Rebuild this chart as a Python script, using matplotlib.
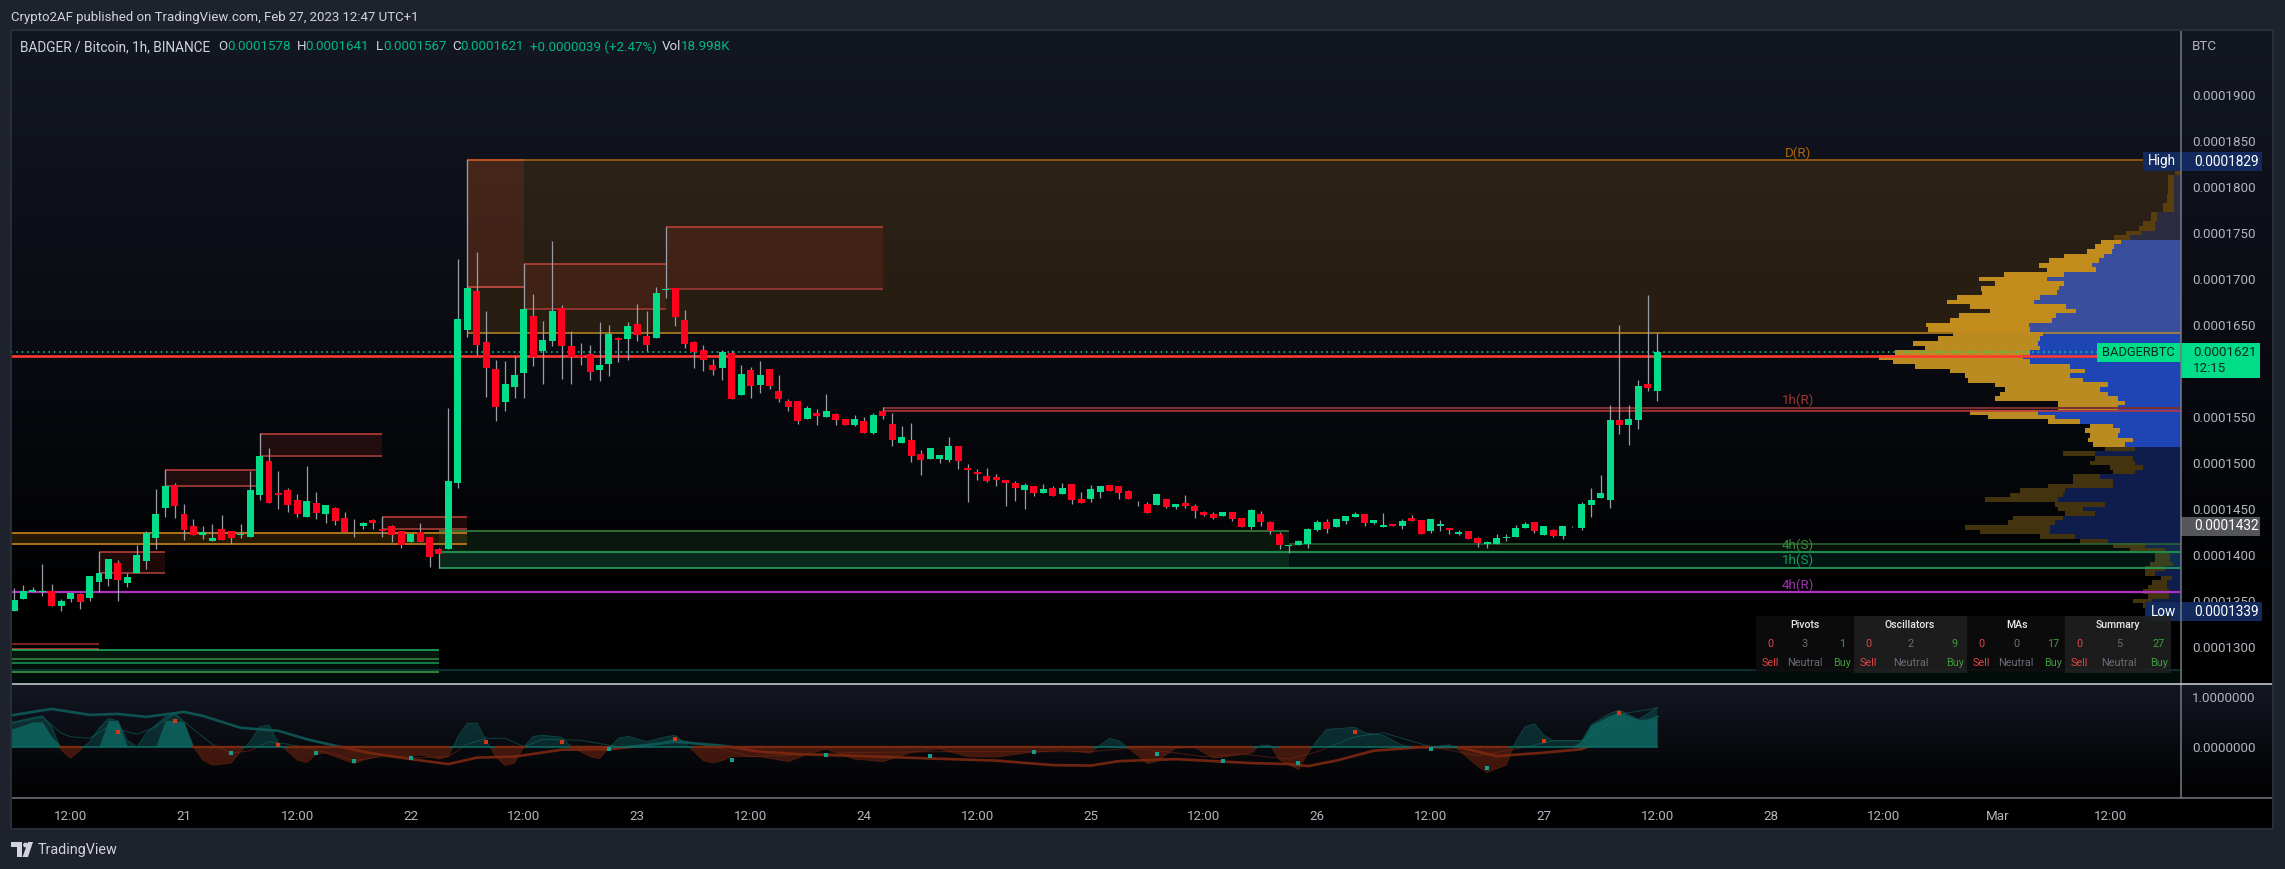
import numpy as np
import matplotlib
matplotlib.use("Agg")
import matplotlib.pyplot as plt
from matplotlib.colors import LinearSegmentedColormap
from matplotlib.patches import Rectangle, Polygon, Circle

W, H = 2285, 869
plt.rcParams['font.family'] = ['Roboto', 'DejaVu Sans']

# ---- candles: prices in 1e-7 BTC, hourly, first bar = Feb 20 06:00
first_hour = -18
opens = [1339,1352,1360,1360,1361,1345,1352,1358,1353,1371,
 1374,1391,1370,1380,1393,1418,1451,1476,1445,1432,
 1422,1415,1428,1426,1422,1420,1465,1502,1467,1471,
 1460,1441,1457,1445,1451,1440,1431,1431,1438,1428,
 1431,1426,1414,1425,1420,1407,1407,1478,1645,1687,
 1631,1602,1566,1583,1598,1660,1622,1633,1668,1627,
 1617,1618,1601,1608,1636,1635,1651,1638,1636,1688,
 1690,1655,1631,1623,1607,1603,1620,1574,1601,1585,
 1602,1578,1567,1567,1548,1554,1550,1553,1548,1541,
 1546,1533,1557,1542,1522,1525,1510,1504,1504,1503,
 1518,1495,1490,1486,1485,1482,1478,1471,1475,1467,
 1473,1466,1477,1461,1461,1468,1476,1475,1470,1456,
 1455,1454,1461,1452,1457,1453,1447,1445,1442,1447,
 1440,1430,1445,1436,1423,1410,1411,1412,1427,1436,
 1430,1437,1441,1445,1435,1430,1434,1432,1440,1438,
 1426,1432,1429,1423,1426,1418,1412,1412,1419,1420,
 1429,1436,1422,1427,1421,1431,1429,1454,1462,1460,
 1547,1541,1547,1586,1578]
highs = [1364,1367,1365,1390,1368,1352,1359,1359,1377,1403,
 1396,1395,1380,1411,1426,1472,1492,1478,1455,1439,
 1432,1434,1444,1426,1434,1491,1533,1516,1491,1473,
 1466,1497,1468,1454,1452,1447,1439,1436,1439,1441,
 1433,1426,1423,1435,1420,1408,1560,1722,1829,1729,
 1665,1612,1611,1616,1716,1684,1654,1741,1672,1643,
 1630,1628,1653,1650,1637,1653,1673,1665,1691,1755,
 1690,1666,1633,1628,1613,1623,1623,1607,1604,1611,
 1602,1596,1570,1567,1562,1559,1575,1554,1548,1552,
 1550,1554,1561,1554,1540,1543,1514,1516,1509,1528,
 1518,1499,1493,1495,1488,1482,1480,1478,1475,1477,
 1475,1478,1477,1468,1476,1475,1476,1475,1471,1459,
 1458,1466,1461,1455,1465,1455,1448,1447,1447,1447,
 1440,1450,1448,1437,1425,1411,1416,1429,1438,1439,
 1439,1442,1447,1445,1438,1446,1434,1439,1444,1438,
 1439,1438,1429,1427,1426,1420,1415,1423,1423,1433,
 1436,1436,1432,1428,1432,1432,1458,1473,1487,1563,
 1650,1563,1590,1683,1641]
lows = [1339,1352,1360,1355,1345,1339,1349,1341,1350,1360,
 1366,1350,1365,1380,1385,1407,1441,1440,1416,1422,
 1417,1415,1416,1412,1418,1420,1460,1457,1450,1447,
 1441,1441,1439,1435,1433,1425,1420,1428,1428,1420,
 1414,1408,1414,1414,1387,1386,1407,1473,1637,1617,
 1572,1546,1557,1571,1571,1605,1586,1627,1591,1586,
 1607,1590,1589,1595,1610,1612,1633,1622,1636,1679,
 1649,1625,1603,1600,1596,1590,1570,1574,1571,1576,
 1580,1566,1557,1542,1548,1541,1550,1541,1541,1540,
 1533,1531,1548,1518,1522,1501,1487,1504,1500,1501,
 1493,1458,1482,1479,1475,1453,1459,1450,1464,1467,
 1464,1466,1455,1457,1458,1462,1470,1461,1461,1453,
 1446,1454,1451,1450,1451,1440,1442,1439,1442,1437,
 1430,1428,1432,1423,1407,1402,1411,1408,1426,1424,
 1430,1434,1441,1432,1434,1430,1432,1428,1437,1423,
 1424,1426,1423,1422,1417,1409,1408,1412,1415,1420,
 1429,1424,1422,1420,1417,1430,1427,1441,1462,1451,
 1532,1520,1537,1578,1567]
closes = [1351,1361,1362,1361,1345,1350,1359,1349,1377,1380,
 1396,1373,1376,1400,1424,1445,1475,1453,1427,1422,
 1425,1418,1416,1418,1423,1471,1508,1457,1465,1454,
 1445,1459,1446,1454,1437,1425,1432,1435,1435,1426,
 1422,1411,1423,1414,1398,1401,1480,1656,1690,1628,
 1603,1561,1586,1596,1667,1615,1634,1665,1627,1615,
 1615,1599,1607,1640,1634,1649,1639,1628,1685,1689,
 1659,1629,1621,1612,1601,1621,1570,1597,1584,1596,
 1584,1570,1561,1546,1560,1551,1557,1547,1541,1548,
 1533,1552,1551,1525,1528,1508,1503,1516,1509,1518,
 1502,1492,1488,1480,1482,1478,1473,1476,1467,1472,
 1464,1473,1460,1457,1472,1475,1470,1467,1461,1457,
 1446,1466,1452,1455,1453,1448,1443,1440,1447,1439,
 1430,1449,1436,1426,1411,1411,1415,1428,1436,1428,
 1439,1442,1445,1435,1438,1433,1432,1437,1437,1423,
 1439,1434,1427,1425,1417,1413,1414,1418,1420,1429,
 1434,1426,1432,1421,1432,1432,1455,1460,1467,1547,
 1541,1548,1584,1581,1621]

# ---- volume profile rows (price, blue part, total)
vp_price = list(range(1825, 1335, -5))
vp_blue = [0,0,0,7,7,7,7,7,7,7,7,24,24,26,26,40,51,60,67,69,77,82,89,85,117,134,117,122,124,141,147,115,105,125,129,152,
 151,138,141,143,141,151,158,151,111,96,111,98,73,81,73,63,56,63,143,126,101,68,61,63,48,56,46,
 86,48,46,38,46,81,68,68,116,118,123,76,98,86,118,126,131,131,106,73,36,16,11,11,8,16,26,9,14,14,12,12,29,29,27]
vp_total = [6,6,6,13,13,13,13,14,14,18,18,30,30,38,42,55,67,80,86,94,117,132,142,134,177,202,186,200,199,224,234,211,191,222,231,255,
 253,228,243,268,256,286,302,288,266,231,216,213,186,176,181,186,123,123,211,193,133,91,96,91,93,88,76,
 118,86,91,71,68,108,108,133,161,171,196,126,123,116,168,173,216,201,141,101,68,51,26,26,31,36,36,20,29,33,38,33,48,38,35]
va_low, va_high = 1520, 1740

# ---- oscillator
osc_hours = [-19,-18,-16,-15,-14,-13,-12,-11,-10,-9,-8,-7,-6,-5,-4,-2,-1,0,1,2,3,5,6,7,8,9,10,11,12,13,14,15,17,18,19,21,23,25,26,27,28,29,30,31,32,33,34,35,36,37,38,40,41,43,44,45,46,47,49,51,52,53,54,55,56,57,58,61,64,66,68,71,74,77,80,83,
 86,89,93,96,97,98,99,100,102,103,105,107,109,110,113,114,115,116,118,119,120,121,124,125,127,129,130,132,134,135,137,138,140,141,142,143,144,145,148,149,151,152,154,156]
osc_vals = [.48,.50,.59,.62,.40,-.07,-.23,-.07,.10,.37,.57,.52,.13,0,.27,.60,.67,.47,0,-.27,-.37,-.33,-.10,.10,.40,.44,.07,-.10,-.27,-.32,-.15,-.13,-.27,-.34,-.27,-.17,-.20,-.17,-.20,-.25,-.20,.20,.47,.48,.13,-.20,-.38,-.33,0,.21,.23,.19,0,-.20,-.24,-.03,.17,.21,.10,.20,.23,.07,-.10,-.28,-.33,-.28,-.20,-.20,-.30,-.15,-.05,-.25,-.30,-.12,-.05,-.20,
 -.21,-.13,-.07,-.13,.03,.17,.12,-.03,-.34,-.30,-.03,-.01,-.23,-.21,-.13,.03,.03,-.27,-.46,-.13,.13,.35,.39,.28,.23,.03,0,-.01,.04,-.07,-.40,-.52,-.37,.10,.40,.46,.23,.12,.12,.44,.67,.74,.55,.79]
inner_hours = [-19,-18,-16,-15,-14,-13,-9,-8,-7,-6,-3,-2,-1,0,1,146,147,148,149,151,152,154,156]
inner_vals = [.35,.37,.50,.50,.20,0,0,.53,.52,0,0,.53,.53,.50,0,0,0,.12,.44,.63,.70,.55,.57]
thin_hours = [-19,-18,-15,-13,-12,-10,-8,-5,-3,-1,1,3,5,7,9,11,13,16,18,21,25,28,30,32,34,36,38,42,46,50,52,56,60,70,80,90,96,100,104,108,112,117,120,124,127,132,137,141,145,148,150,152,156]
thin_vals = [.46,.48,.60,.27,.20,.17,.40,.25,.40,.67,.35,.05,-.13,-.08,.10,.05,-.03,-.15,-.28,-.20,-.22,-.20,.05,.17,.17,0,.15,.13,0,.05,.15,0,-.20,-.12,-.10,-.10,-.10,-.03,-.10,-.20,-.15,-.25,-.10,.20,.28,0,-.18,-.05,.12,.12,.35,.65,.78]
sig_hours = [-19,-18,-14,-10,-7,-4,0,2,6,10,13,16,19.5,24,28,31,35,40,45,47,52,57,61,65,72,78,86,92,96,99,105,109,113,117,119,122,126,131,135,139,144,148,156]
sig_vals = [.62,.64,.76,.64,.66,.60,.70,.62,.38,.32,.15,.02,-.12,-.25,-.35,-.22,-.20,-.06,-.05,-.01,.10,.02,-.10,-.15,-.19,-.23,-.28,-.37,-.38,-.29,-.25,-.29,-.33,-.35,-.39,-.28,-.08,-.01,-.01,-.19,-.12,-.05,.60]
dot_up_hours = [-7,-1,10,32,40,52,124,144,152]
dot_up_vals = [.29,.52,.03,.09,.09,.15,.29,.11,.67]
dot_dn_hours = [5,14,18,24,45,58,68,79,90,103,110,118,132,138]
dot_dn_vals = [-.13,-.13,-.28,-.23,-.05,-.26,-.16,-.18,-.10,-.15,-.28,-.32,-.05,-.42]

# ---- axis labels (0.0001600 sits under the last-price box in the reference)
price_ticks = [1900,1850,1800,1750,1700,1650,1550,1500,1450,1400,1350,1300]
time_hours = [-12,0,12,24,36,48,60,72,84,96,108,120,132,144,156,168,180,192,204]
time_labels = ['12:00','21','12:00','22','12:00','23','12:00','24','12:00','25','12:00','26','12:00','27','12:00','28','12:00','Mar','12:00']

# ---- table
table_titles = ['Pivots','Oscillators','MAs','Summary']
table_counts = [[0,3,1],[0,2,9],[0,0,17],[0,5,27]]

# ---- layout (pixels)
XL, XR, XF = 11, 2181, 2273
YT, YM, YS, YB = 30, 684, 798, 829
HX0, HX1 = (XL-184)/9.444, (XR-184)/9.444
PT, PB = 1650+(325-YT)/0.92, 1650-(YM-325)/0.92
OT, OB = (746.7-YM)/49.7, (746.7-YS)/49.7

fig = plt.figure(figsize=(W/100, H/100), dpi=100, facecolor='#1e222d')
def ax_px(x0, y0, x1, y1, **kw):
    return fig.add_axes([x0/W, 1-y1/H, (x1-x0)/W, (y1-y0)/H], **kw)
def grad(x0, y0, x1, y1, stops):
    a = ax_px(x0, y0, x1, y1)
    a.imshow(np.linspace(0, 1, 256)[:, None], aspect='auto',
             cmap=LinearSegmentedColormap.from_list('g', stops), vmin=0, vmax=1)
    a.axis('off')

grad(XL, YT, XF, YM, [(0, '#131722'), (.45, '#0a0c13'), (.9, '#000000'), (1, '#000000')])
grad(XL, YM, XF, YS, [(0, '#131722'), (1, '#000000')])
a = ax_px(XL, YS, XF, YB, facecolor='#000000'); a.set_xticks([]); a.set_yticks([])
for s in a.spines.values(): s.set_visible(False)

# volume profile underlay
vp = ax_px(XL, YT, XR, YM)
vp.patch.set_visible(False); vp.axis('off')
vp.set_xlim(XR-XL, 0); vp.set_ylim(PB, PT)
for p, b, t_ in zip(vp_price, vp_blue, vp_total):
    inside = va_low <= p <= va_high
    vp.barh(p, b, height=5.2, color='#1e45b4' if inside else '#0f1d4c', lw=0)
    vp.barh(p, t_-b, left=b, height=5.2, color='#b98b20' if inside else '#43330f', lw=0)

# main price pane
ax = ax_px(XL, YT, XR, YM)
ax.patch.set_visible(False)
ax.set_xlim(HX0, HX1); ax.set_ylim(PB, PT)
for s in ax.spines.values(): s.set_visible(False)
ax.set_xticks([])
ax.set_yticks(price_ticks)
ax.set_yticklabels([f'{p/1e7:.7f}' for p in price_ticks], color='#b2b5be', fontsize=9.6)
ax.yaxis.tick_right()
ax.tick_params(axis='y', length=0, pad=8)

def zone(h0, h1, p0, p1, color, alpha, z=1):
    ax.add_patch(Rectangle((h0, p0), h1-h0, p1-p0, fc=color, ec='none', alpha=alpha, zorder=z))
def hl(p, h0, h1, color, px=1.5, z=2, **kw):
    ax.plot([h0, h1], [p, p], color=color, lw=px*0.72, zorder=z, solid_capstyle='butt', **kw)
def red_box(h0, h1, top, bot, c1='#c8423a', c2='#8a3530'):
    zone(h0, h1, bot, top, '#f44336', .12)
    hl(top, h0, h1, c1); hl(bot, h0, h1, c2, px=2)
    ax.plot([h0, h0], [bot, top], color='#9598a1', lw=0.8, zorder=2)

# zones
zone(30, HX1, 1641, 1829, '#ff9800', .12)
hl(1829, 30, HX1, '#a9650c'); hl(1641, 30, HX1, '#c08a22')
red_box(30, 36, 1829, 1691, '#c8502a', '#b0443a')
red_box(36, 51, 1716, 1667)
red_box(51, 74, 1756, 1689)
red_box(-9, -2, 1403, 1380)
red_box(-2, 8, 1492, 1475)
red_box(8, 21, 1532, 1508)
red_box(21, 30, 1441, 1428)
zone(HX0, 30, 1412, 1424, '#ff9800', .14)
hl(1424, HX0, 30, '#a8701a', px=2); hl(1412, HX0, 30, '#a8701a', px=2)
zone(27, 117, 1386, 1426, '#4caf50', .12)
zone(27, HX1, 1386, 1403, '#089981', .13)
zone(117, HX1, 1403, 1412, '#4caf50', .08)
hl(1426, 27, 117, '#2e6b34', px=2); hl(1412, 117, HX1, '#2a6b35')
hl(1403, 27, HX1, '#1f8a4a', px=2.2); hl(1386, 27, HX1, '#2aa860', px=1.6)
zone(74, HX1, 1556.5, 1560, '#f44336', .15)
hl(1560, 74, HX1, '#7a3030', px=2); hl(1556.5, 74, HX1, '#c03a3a')
hl(1303, HX0, -9, '#7a1f1f', px=2); hl(1298, HX0, -9, '#d33a3a')
zone(HX0, 27, 1283, 1297, '#22bb66', .13); zone(HX0, 27, 1272, 1283, '#22bb66', .09)
hl(1297, HX0, 27, '#22bb66'); hl(1287, HX0, 27, '#3f8a3f'); hl(1283, HX0, 27, '#1a9a55'); hl(1272.5, HX0, 27, '#45a045')
zone(HX0, HX1, PB, 1275, '#089981', .09); hl(1275, HX0, HX1, '#0d3f3c')
hl(1360, HX0, HX1, '#b030c0', px=2.2, z=3)
hl(1616, HX0, (2100-184)/9.444, '#ff3b30', px=2.6, z=3)
ax.plot([HX0, (2100-184)/9.444], [1620.5, 1620.5], color='#00e090', lw=1.1, ls=(0, (1, 2.5)), zorder=3)

# candles
hours = first_hour + np.arange(len(opens))
o, h_, l, c = map(np.array, (opens, highs, lows, closes))
up = c >= o
ax.vlines(hours, l, h_, color='#9a9da5', lw=0.9, zorder=4)
ax.bar(hours[up], c[up]-o[up], bottom=o[up], width=0.74, color='#02dd8a', lw=0, zorder=5)
ax.bar(hours[~up], c[~up]-o[~up], bottom=o[~up], width=0.74, color='#ff001e', lw=0, zorder=5)

# oscillator pane
os_ = ax_px(XL, YM, XR, YS)
os_.patch.set_visible(False)
os_.set_xlim(HX0, HX1); os_.set_ylim(OB, OT)
for s in os_.spines.values(): s.set_visible(False)
os_.set_yticks([1, 0]); os_.set_yticklabels(['1.0000000', '0.0000000'], color='#b2b5be', fontsize=9.6)
os_.yaxis.tick_right(); os_.tick_params(axis='y', length=0, pad=8)
os_.set_xticks(time_hours); os_.set_xticklabels(time_labels, color='#b2b5be', fontsize=9.6)
os_.tick_params(axis='x', length=0, pad=9)
TEAL, RUST = '#0f8f85', '#a83212'
ox, ov = np.array(osc_hours, float), np.array(osc_vals, float)
os_.fill_between(ox, ov, 0, where=ov >= 0, interpolate=True, color=TEAL, alpha=.25, lw=0)
os_.fill_between(ox, ov, 0, where=ov <= 0, interpolate=True, color=RUST, alpha=.36, lw=0)
ix, iv = np.array(inner_hours, float), np.array(inner_vals, float)
os_.fill_between(ix, iv, 0, color=TEAL, alpha=.48, lw=0)
up_clip = Rectangle((HX0, 0), HX1-HX0, 3, transform=os_.transData)
dn_clip = Rectangle((HX0, -3), HX1-HX0, 3, transform=os_.transData)
def two_tone(xs, ys, lw, alpha, ct, cr):
    l1, = os_.plot(xs, ys, color=ct, lw=lw, alpha=alpha); l1.set_clip_path(up_clip)
    l2, = os_.plot(xs, ys, color=cr, lw=lw, alpha=alpha); l2.set_clip_path(dn_clip)
two_tone(ox, ov, 0.6, .5, '#0f6f68', '#7a2a10')
two_tone(thin_hours, thin_vals, 0.7, .55, '#0f6f68', '#7a2a10')
two_tone(sig_hours, sig_vals, 1.9, .9, '#0e5a58', '#7c2810')
os_.plot([-19, 156], [0, 0], color='#0f6f68', lw=1.1)
for i in range(len(osc_hours)-1):
    if ov[i] < 0.03 and ov[i+1] < 0.03:
        os_.plot(ox[i:i+2], [0, 0], color='#7a2a10', lw=1.7)
os_.plot(dot_up_hours, dot_up_vals, ls='none', marker='s', ms=2.2, color='#d0381a', mew=0)
os_.plot(dot_dn_hours, dot_dn_vals, ls='none', marker='s', ms=2.2, color='#0fa090', mew=0)

# overlay for separators, labels and text
ov_ax = fig.add_axes([0, 0, 1, 1], facecolor='none')
ov_ax.set_xlim(0, W); ov_ax.set_ylim(H, 0); ov_ax.axis('off')
def seg(x0, y0, x1, y1, color, px=1.3):
    ov_ax.plot([x0, x1], [y0, y1], color=color, lw=px*0.72, solid_capstyle='butt')
seg(XR, YT, XR, YS, '#787b86', 1.5)
seg(XL, YM, XF, YM, '#d8dade', 1.5)
seg(XL, YS, XF, YS, '#787b86', 1.5)
seg(XL, YT-0.5, XF, YT-0.5, '#2a2e39', 2); seg(XL, YB, XF, YB, '#2a2e39', 2)
seg(XL-0.5, YT, XL-0.5, YB, '#2a2e39', 2); seg(XF, YT, XF, YB, '#2a2e39', 2)

def t(x, y, s, color='#d1d4dc', size=9.6, ha='left', **kw):
    ov_ax.text(x, y, s, color=color, fontsize=size, ha=ha, va='center', **kw)
t(11, 17.5, 'Crypto2AF published on TradingView.com, Feb 27, 2023 12:47 UTC+1', '#d1d4dc', 9.55)
t(20, 47, 'BADGER / Bitcoin, 1h, BINANCE', '#d1d4dc', 9.8)
G = '#00b884'
for x, s, col in [(218,'O','#d1d4dc'),(227,'0.0001578',G),(297,'H','#d1d4dc'),(305,'0.0001641',G),
                  (376,'L','#d1d4dc'),(383,'0.0001567',G),(452,'C','#d1d4dc'),(460,'0.0001621',G),
                  (530,'+0.0000039 (+2.47%)',G),(662,'Vol','#d1d4dc'),(681,'18.998K',G)]:
    t(x, 47, s, col, 9.6)
t(2192, 46, 'BTC', '#b2b5be', 9.6)

t(1798, 153, 'D(R)', '#a9650c', 9.6, ha='center')
t(1798, 400, '1h(R)', '#a03434', 9.6, ha='center')
t(1798, 545, '4h(S)', '#3a8a3a', 9.6, ha='center')
t(1798, 560, '1h(S)', '#12a05a', 9.6, ha='center')
t(1798, 585, '4h(R)', '#a030b0', 9.6, ha='center')

def box(x0, y0, x1, y1, color):
    ov_ax.add_patch(Rectangle((x0, y0), x1-x0, y1-y0, fc=color, ec='none'))
box(2143, 152, 2262, 171, '#132a5e')
t(2148, 161.5, 'High', '#ffffff', 9.8); t(2194, 161.5, '0.0001829', '#ffffff', 9.8)
box(2145, 602, 2262, 621, '#132a5e')
t(2151, 611.5, 'Low', '#ffffff', 9.8); t(2194, 611.5, '0.0001339', '#ffffff', 9.8)
box(2181, 517, 2260, 536, '#55565a')
t(2194, 526.5, '0.0001432', '#ffffff', 9.8)
box(2097, 343, 2181, 362, '#00dd88'); box(2181, 343, 2260, 378, '#00dd88')
t(2102, 353, 'BADGERBTC', '#0b2a20', 9.3); t(2193, 353, '0.0001621', '#0b2a20', 9.6)
t(2193, 369, '12:15', '#0b2a20', 9.6)

# oscillator summary table
panel_x = [1756, 1854, 1967, 2065, 2171]
panel_bg = ['#0d0d0d', '#202020', '#0d0d0d', '#202020']
col_x = [[1770,1805,1842],[1868,1911,1955],[1981,2016,2053],[2079,2119,2159]]
head_x = [1805, 1910, 2017, 2118]
for i, title in enumerate(table_titles):
    ov_ax.add_patch(Rectangle((panel_x[i], 616), panel_x[i+1]-panel_x[i], 57, fc=panel_bg[i], ec='none', alpha=.9))
    t(head_x[i], 625, title, '#e8e8ea', 7.6, ha='center', fontweight='medium')
    for x, n, s, col in zip(col_x[i], table_counts[i], ['Sell','Neutral','Buy'], ['#e04545','#6a6d78','#3f9a3f']):
        t(x, 644, str(n), col, 7.8, ha='center')
        t(x, 663, s, col, 7.8, ha='center')

# footer logo and name
ov_ax.add_patch(Polygon([(11,842),(22,842),(22,857),(16.5,857),(16.5,847),(11,847)], fc='#d1d4dc', ec='none'))
ov_ax.add_patch(Circle((25.5, 845), 2.4, fc='#d1d4dc', ec='none'))
ov_ax.add_patch(Polygon([(28,842),(33,842),(28,857),(22.5,857)], fc='#d1d4dc', ec='none'))
t(38, 850, 'TradingView', '#d1d4dc', 10.4)

fig.savefig('out.png', dpi=100, facecolor=fig.get_facecolor())
